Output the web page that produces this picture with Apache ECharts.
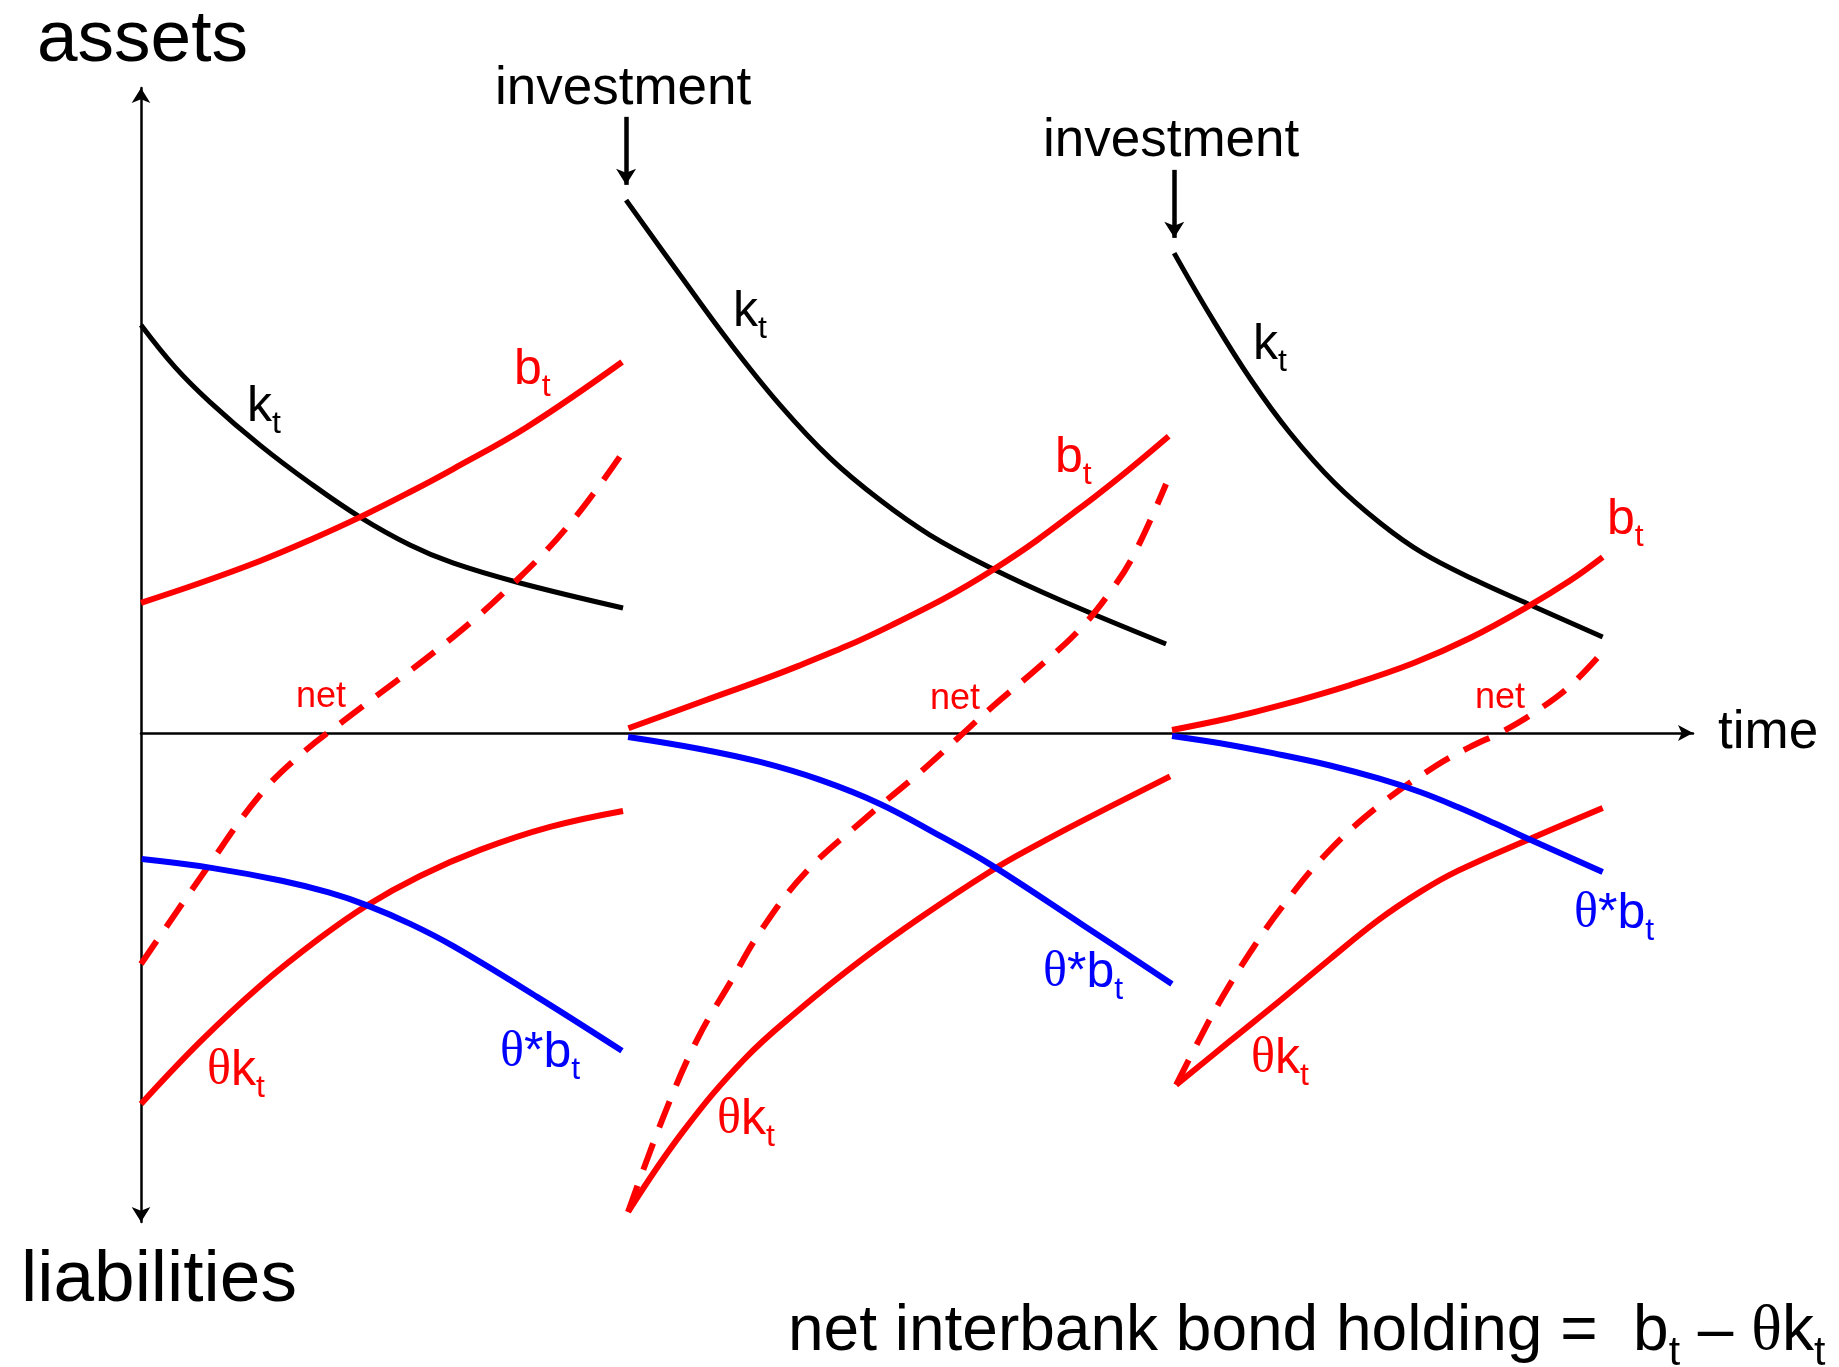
<!DOCTYPE html>
<html>
<head>
<meta charset="utf-8">
<title>net interbank bond holding</title>
<script src="https://cdn.jsdelivr.net/npm/echarts@6/dist/echarts.min.js"></script>
<style>
html, body { margin: 0; padding: 0; background: #fff; }
#chart { width: 1839px; height: 1367px; }
</style>
</head>
<body>
<div id="chart"></div>
<script>
// investment dates on the time axis
var investTimes = [4.135, 8.808];

// period 1  [time, value]
var k1   = [[0,3.479],[0.29,3.12],[0.588,2.822],[1.014,2.455],[1.44,2.132],[1.867,1.841],[2.293,1.603],[2.659,1.45],[3.231,1.279],[4.109,1.066]];
var b1   = [[0,1.11],[0.503,1.279],[1.014,1.467],[1.44,1.646],[1.867,1.841],[2.293,2.055],[2.66,2.251],[3.291,2.609],[4.101,3.163]];
var net1 = [[0,-1.97],[0.563,-1.151],[1.014,-0.529],[1.356,-0.188],[1.782,0.145],[2.66,0.818],[3.231,1.33],[3.683,1.816],[4.109,2.396]];
var thk1 = [[0,-3.163],[0.503,-2.634],[1.014,-2.157],[1.526,-1.748],[1.918,-1.475],[2.379,-1.219],[2.89,-0.997],[3.487,-0.801],[4.109,-0.665]];
var thb1 = [[0.006,-1.075],[0.6,-1.15],[1.2,-1.26],[1.6,-1.36],[1.927,-1.47],[2.3,-1.63],[2.666,-1.82],[3.376,-2.25],[4.10,-2.71]];

// period 2
var k2   = [[4.135,4.544],[4.595,3.905],[5.021,3.325],[5.448,2.796],[5.874,2.344],[6.3,1.986],[6.726,1.688],[7.246,1.407],[7.835,1.134],[8.738,0.759]];
var b2   = [[4.155,0.04],[4.8,0.275],[5.6,0.57],[6.4,0.92],[7.26,1.39],[8.125,2.01],[8.76,2.53]];
var net2 = [[4.152,-4.084],[4.463,-3.248],[4.74,-2.617],[5.021,-2.131],[5.3,-1.662],[5.669,-1.185],[6.168,-0.733],[6.664,-0.315],[6.974,-0.034],[7.255,0.222],[7.664,0.571],[7.997,0.878],[8.261,1.202],[8.462,1.517],[8.738,2.123]];
var thk2 = [[4.152,-4.084],[4.618,-3.402],[5.145,-2.78],[5.623,-2.35],[6.13,-1.944],[6.641,-1.576],[7.246,-1.177],[7.621,-0.963],[8.028,-0.747],[8.772,-0.37]];
var thb2 = [[4.152,-0.034],[4.765,-0.136],[5.277,-0.247],[5.789,-0.4],[6.3,-0.605],[6.812,-0.878],[7.246,-1.125],[8.028,-1.637],[8.788,-2.14]];

// period 3
var k3   = [[8.807,4.092],[9.113,3.564],[9.463,3.01],[9.795,2.558],[10.175,2.131],[10.563,1.79],[10.924,1.535],[11.373,1.304],[11.825,1.1],[12.46,0.818]];
var b3   = [[8.789,0.026],[9.284,0.128],[9.726,0.239],[10.307,0.409],[10.849,0.597],[11.33,0.81],[11.825,1.08],[12.183,1.3],[12.46,1.5]];
var net3 = [[8.824,-3.001],[9.011,-2.634],[9.199,-2.285],[9.463,-1.859],[9.727,-1.483],[10.102,-1.032],[10.55,-0.622],[11.036,-0.281],[11.33,-0.119],[11.615,0.017],[11.898,0.188],[12.182,0.401],[12.46,0.691]];
var thk3 = [[8.824,-3.001],[9.284,-2.626],[9.726,-2.268],[10.136,-1.927],[10.55,-1.594],[10.904,-1.355],[11.224,-1.176],[11.858,-0.895],[12.46,-0.639]];
var thb3 = [[8.789,-0.026],[9.284,-0.102],[9.726,-0.188],[10.136,-0.277],[10.55,-0.388],[10.904,-0.503],[11.224,-0.631],[11.543,-0.772],[11.858,-0.917],[12.46,-1.185]];

var RED = '#ff0000', BLUE = '#0000ff', BLACK = '#000000';
var SANS = '"Liberation Sans", Arial, sans-serif';
var SERIF = '"Liberation Serif", "Times New Roman", serif';

var ctx = document.createElement('canvas').getContext('2d');

// lay out a label made of pieces: 'sans', 'serif' or 'sub' (subscript)
function textRun(left, base, pieces, size, color) {
    var els = [];
    var x = left;
    pieces.forEach(function (p) {
        var sub = p[1] === 'sub';
        var fs = sub ? Math.round(size * 0.64) : size;
        var fam = p[1] === 'serif' ? SERIF : SANS;
        var by = sub ? base + size * 0.24 : base;
        els.push({
            type: 'text', x: x, y: by - 0.26 * fs, silent: true, z: 100,
            style: { text: p[0], fontSize: fs, fontFamily: fam, fill: color, align: 'left', verticalAlign: 'middle' }
        });
        ctx.font = fs + 'px ' + fam;
        x += ctx.measureText(p[0]).width;
    });
    return els;
}

function curve(data, color, width, dashed) {
    return {
        type: 'line',
        data: data,
        smooth: 0.4,
        showSymbol: false,
        symbol: 'none',
        clip: false,
        silent: true,
        lineStyle: { color: color, width: width, type: dashed ? [28, 17] : 'solid', cap: 'butt' }
    };
}

function investArrow(t, kStart) {
    return {
        silent: true,
        symbol: ['none', 'arrow'],
        symbolSize: [15, 16],
        label: { show: false },
        lineStyle: { color: BLACK, width: 4.5, type: 'solid' },
        data: [[{ coord: [t, kStart + 0.71] }, { coord: [t, kStart + 0.13] }]]
    };
}

var series = [
    curve(k1, BLACK, 5), curve(b1, RED, 6), curve(net1, RED, 6, true), curve(thk1, RED, 6), curve(thb1, BLUE, 6),
    curve(k2, BLACK, 5), curve(b2, RED, 6), curve(net2, RED, 6, true), curve(thk2, RED, 6), curve(thb2, BLUE, 6),
    curve(k3, BLACK, 5), curve(b3, RED, 6), curve(net3, RED, 6, true), curve(thk3, RED, 6), curve(thb3, BLUE, 6)
];
series[5].markLine = investArrow(investTimes[0], k2[0][1]);
series[10].markLine = investArrow(investTimes[1], k3[0][1]);

var graphics = [];
function add(els) { graphics = graphics.concat(els); }

add(textRun(37, 60, [['assets', 'sans']], 73, BLACK));
add(textRun(21, 1300, [['liabilities', 'sans']], 73, BLACK));
add(textRun(1718, 747, [['time', 'sans']], 53, BLACK));
add(textRun(495, 103, [['investment', 'sans']], 53, BLACK));
add(textRun(1043, 155, [['investment', 'sans']], 53, BLACK));
add(textRun(788, 1349, [['net interbank bond holding =  b', 'sans'], ['t', 'sub'], [' \u2013 ', 'sans'], ['\u03b8', 'serif'], ['k', 'sans'], ['t', 'sub']], 64, BLACK));

var kPos = [[247, 420], [733, 325], [1253, 358]];
var bPos = [[514, 383], [1055, 471], [1607, 533]];
var netPos = [[296, 706], [930, 708], [1475, 707]];
var thkPos = [[207, 1084], [717, 1133], [1251, 1072]];
var thbPos = [[500, 1066], [1043, 986], [1574, 927]];
for (var i = 0; i < 3; i++) {
    add(textRun(kPos[i][0], kPos[i][1], [['k', 'sans'], ['t', 'sub']], 50, BLACK));
    add(textRun(bPos[i][0], bPos[i][1], [['b', 'sans'], ['t', 'sub']], 50, RED));
    add(textRun(netPos[i][0], netPos[i][1], [['net', 'sans']], 36, RED));
    add(textRun(thkPos[i][0], thkPos[i][1], [['\u03b8', 'serif'], ['k', 'sans'], ['t', 'sub']], 50, RED));
    add(textRun(thbPos[i][0], thbPos[i][1], [['\u03b8', 'serif'], ['*b', 'sans'], ['t', 'sub']], 50, BLUE));
}

var myChart = echarts.init(document.getElementById('chart'), null, { renderer: 'canvas' });
var option = {
    animation: false,
    backgroundColor: '#ffffff',
    grid: { left: 141, right: 146, top: 88, bottom: 145 },
    xAxis: {
        type: 'value',
        min: 0,
        max: 13.23,
        axisLine: {
            show: true,
            onZero: true,
            symbol: ['none', 'arrow'],
            symbolSize: [12, 15],
            lineStyle: { color: BLACK, width: 2.5 }
        },
        axisTick: { show: false },
        axisLabel: { show: false },
        splitLine: { show: false }
    },
    yAxis: {
        type: 'value',
        min: -4.17,
        max: 5.5,
        axisLine: {
            show: true,
            onZero: true,
            symbol: ['arrow', 'arrow'],
            symbolSize: [14, 15],
            lineStyle: { color: BLACK, width: 2.5 }
        },
        axisTick: { show: false },
        axisLabel: { show: false },
        splitLine: { show: false }
    },
    series: series,
    graphic: graphics
};
myChart.setOption(option);
</script>
</body>
</html>
